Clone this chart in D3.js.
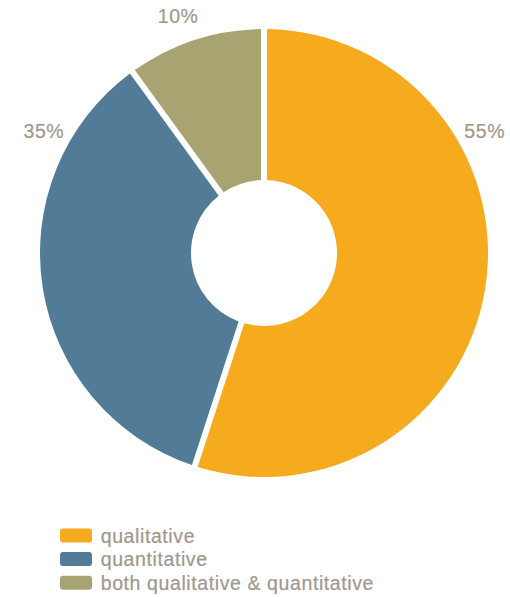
<!DOCTYPE html>
<html>
<head>
<meta charset="utf-8">
<script src="https://cdn.jsdelivr.net/npm/d3@7"></script>
<style>
  html, body { margin: 0; padding: 0; background: #fff; }
  svg { display: block; }
  text {
    font-family: "Liberation Sans", Arial, Helvetica, sans-serif;
    fill: #a0978d;
    stroke: #a0978d;
    stroke-width: 0.2px;
    letter-spacing: 0.6px;
  }
</style>
</head>
<body>
<svg id="chart" width="510" height="597"></svg>
<script>
// Survey response types
const categories = ["qualitative", "quantitative", "both qualitative & quantitative"];
const shares = [55, 35, 10];
const valueLabels = ["55%", "35%", "10%"];
const colors = ["#f5ab1d", "#517b96", "#a8a472"];

// Angles (degrees, clockwise from 12 o'clock) where each percentage label sits
const labelAngles = [61, -61, -20];

const cx = 264, cy = 253;
const outerR = 224, innerR = 73;
const gap = 6;
const labelR = 252;

const svg = d3.select("#chart");

const pie = d3.pie().sort(null).value(d => d.value);
const arcs = pie(categories.map((c, i) => ({
  name: c, value: shares[i], color: colors[i], label: valueLabels[i], la: labelAngles[i]
})));

const arc = d3.arc()
  .innerRadius(innerR)
  .outerRadius(outerR)
  .padRadius(outerR)
  .padAngle(gap / outerR);

const g = svg.append("g").attr("transform", `translate(${cx},${cy})`);

g.selectAll("path.slice")
  .data(arcs)
  .join("path")
  .attr("class", "slice")
  .attr("d", arc)
  .attr("fill", d => d.data.color);

g.selectAll("text.pct")
  .data(arcs)
  .join("text")
  .attr("class", "pct")
  .attr("x", d => labelR * Math.sin(d.data.la * Math.PI / 180) + 0.3)
  .attr("y", d => -labelR * Math.cos(d.data.la * Math.PI / 180))
  .attr("dy", "0.35em")
  .attr("text-anchor", "middle")
  .style("font-size", "19.5px")
  .text(d => d.data.label);

// Legend
const legend = svg.append("g").attr("transform", "translate(60,528.5)");
const row = legend.selectAll("g.item")
  .data(categories)
  .join("g")
  .attr("class", "item")
  .attr("transform", (d, i) => `translate(0,${i * 23.6})`);

row.append("rect")
  .attr("width", 32)
  .attr("height", 14)
  .attr("rx", 3)
  .attr("fill", (d, i) => colors[i]);

row.append("text")
  .attr("x", 40.7)
  .attr("y", 14)
  .style("font-size", "19.5px")
  .text(d => d);
</script>
</body>
</html>
